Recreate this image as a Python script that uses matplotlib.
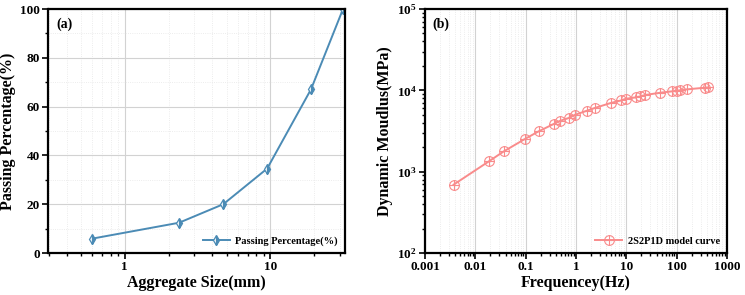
import matplotlib
matplotlib.use("Agg")
import matplotlib.pyplot as plt
from matplotlib.path import Path
from matplotlib.ticker import LogLocator, FixedLocator, NullFormatter, MultipleLocator
import numpy as np

plt.rcParams['font.family'] = ['Liberation Serif', 'DejaVu Serif']
plt.rcParams['font.weight'] = 'bold'
plt.rcParams['mathtext.fontset'] = 'custom'
plt.rcParams['mathtext.rm'] = 'Liberation Serif:bold'
plt.rcParams['mathtext.it'] = 'Liberation Serif:bold'
plt.rcParams['mathtext.bf'] = 'Liberation Serif:bold'

# Panel (a) data: sieve sizes and passing percentages
sieve_mm = [0.6, 2.36, 4.75, 9.5, 19, 31.5]
passing_pct = [5.9, 12.4, 20.0, 34.6, 67.1, 100.0]

# Panel (b) data: frequency and dynamic modulus
freq_hz = [0.0037, 0.0185, 0.0367, 0.099, 0.18, 0.36, 0.49, 0.72, 0.97, 1.65,
           2.35, 4.9, 7.8, 9.9, 15.5, 19, 24, 47.5, 80, 100, 117, 160, 361, 420]
modulus_mpa = [692, 1337, 1775, 2543, 3126, 3855, 4236, 4571, 5015, 5620,
               6065, 6986, 7500, 7890, 8200, 8430, 8770, 9355, 9710, 9900,
               10000, 10280, 10770, 10870]

blue = '#4B8BB5'
red = '#F98B8B'

fig = plt.figure(figsize=(7.45, 2.95), dpi=100)
W, H = 745, 295
axa = fig.add_axes([48.5 / W, 1 - 253 / H, (345 - 48.5) / W, (253 - 9) / H])
axb = fig.add_axes([425 / W, 1 - 253 / H, (727 - 425) / W, (253 - 9) / H])

for ax in (axa, axb):
    for s in ax.spines.values():
        s.set_linewidth(1.6)
        s.set_color('black')
    ax.tick_params(which='major', direction='out', length=4, width=1.2,
                   labelsize=9.5, pad=2)
    ax.tick_params(which='minor', direction='out', length=2.5, width=1.0)
    ax.set_axisbelow(True)

# ---------- Panel (a) ----------
axa.plot(sieve_mm, passing_pct, color=blue, lw=1.4, marker='d', ms=5.5,
         fillstyle='right', markerfacecolor=blue, markerfacecoloralt='white',
         markeredgecolor=blue, markeredgewidth=0.9, label='Passing Percentage(%)')
axa.set_xscale('log')
axa.set_xlim(0.3, 32.5)
axa.set_ylim(0, 100)
axa.xaxis.set_major_locator(FixedLocator([1, 10]))
axa.set_xticklabels(['1', '10'])
axa.xaxis.set_minor_locator(LogLocator(base=10, subs=np.arange(2, 10)))
axa.xaxis.set_minor_formatter(NullFormatter())
axa.yaxis.set_major_locator(MultipleLocator(20))
axa.yaxis.set_minor_locator(MultipleLocator(10))
axa.grid(which='major', color='#d2d2d2', lw=0.8)
axa.grid(which='minor', color='#e6e6e6', lw=0.6, ls=':')
axa.set_xlabel('Aggregate Size(mm)', fontsize=11.5, fontweight='bold', labelpad=1)
axa.set_ylabel('Passing Percentage(%)', fontsize=11.5, fontweight='bold', labelpad=3)
axa.text(0.025, 0.965, '(a)', transform=axa.transAxes, fontsize=10,
         fontweight='bold', va='top', ha='left')
axa.legend(loc='lower right', frameon=False, fontsize=7.5, handlelength=2.6,
           borderaxespad=0.3, handletextpad=0.5)

# ---------- Panel (b) ----------
circ_cross = Path.make_compound_path(
    Path.unit_circle(),
    Path([[-1, 0], [1, 0]], [Path.MOVETO, Path.LINETO]),
    Path([[0, -1], [0, 1]], [Path.MOVETO, Path.LINETO]),
)
axb.plot(freq_hz, modulus_mpa, color=red, lw=1.4, marker=circ_cross, ms=7,
         markerfacecolor='none', markeredgecolor=red, markeredgewidth=0.8,
         label='2S2P1D model curve')
axb.set_xscale('log')
axb.set_yscale('log')
axb.set_xlim(0.001, 1000)
axb.set_ylim(100, 100000)
xt = [0.001, 0.01, 0.1, 1, 10, 100, 1000]
axb.xaxis.set_major_locator(FixedLocator(xt))
axb.set_xticklabels(['0.001', '0.01', '0.1', '1', '10', '100', '1000'])
axb.xaxis.set_minor_locator(LogLocator(base=10, subs=np.arange(2, 10), numticks=20))
axb.xaxis.set_minor_formatter(NullFormatter())
yt = [100, 1000, 10000, 100000]
axb.yaxis.set_major_locator(FixedLocator(yt))
axb.set_yticklabels([r'$10^2$', r'$10^3$', r'$10^4$', r'$10^5$'])
axb.yaxis.set_minor_locator(LogLocator(base=10, subs=np.arange(2, 10), numticks=20))
axb.yaxis.set_minor_formatter(NullFormatter())
axb.grid(which='major', axis='x', color='#d2d2d2', lw=0.8)
axb.grid(which='minor', axis='x', color='#e6e6e6', lw=0.6, ls=':')
axb.set_xlabel('Frequencey(Hz)', fontsize=11.5, fontweight='bold', labelpad=1)
axb.set_ylabel('Dynamic Moudlus(MPa)', fontsize=11.5, fontweight='bold', labelpad=3)
axb.text(0.025, 0.965, '(b)', transform=axb.transAxes, fontsize=10,
         fontweight='bold', va='top', ha='left')
axb.legend(loc='lower right', frameon=False, fontsize=7.5, handlelength=2.6,
           borderaxespad=0.3, handletextpad=0.5)

fig.savefig('out.png', dpi=100)
